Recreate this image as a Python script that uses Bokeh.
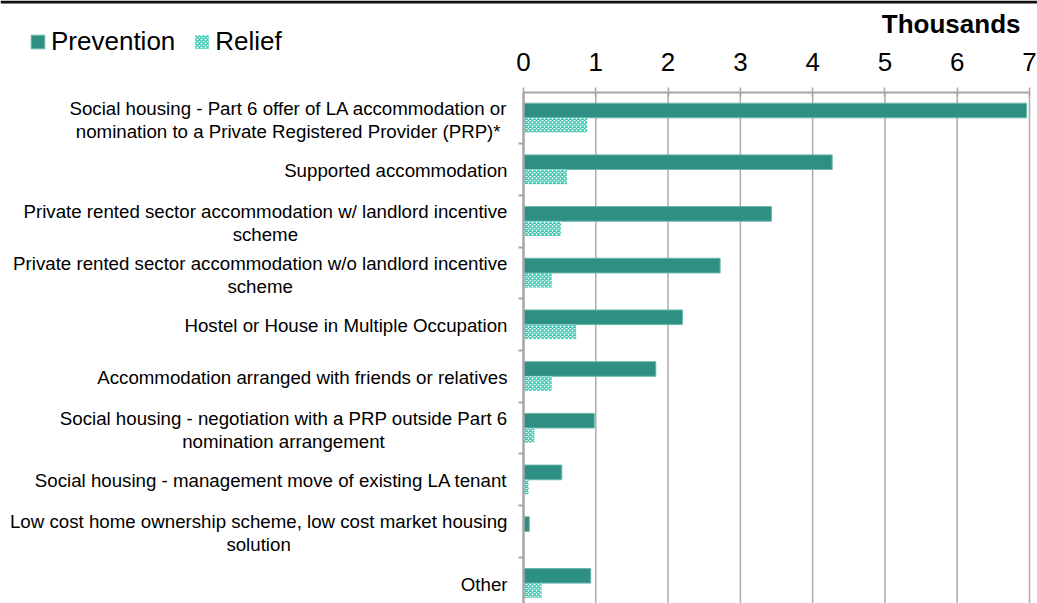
from bokeh.plotting import figure
from bokeh.models import (Range1d, LinearAxis, FixedTicker, Legend, LegendItem, Label,
                          ColumnDataSource, BoxAnnotation)
from bokeh.embed import file_html
from bokeh.resources import INLINE

categories = [
    "Social housing - Part 6 offer of LA accommodation or\nnomination to a Private Registered Provider (PRP)*",
    "Supported accommodation",
    "Private rented sector accommodation w/ landlord incentive\nscheme",
    "Private rented sector accommodation w/o landlord incentive\nscheme",
    "Hostel or House in Multiple Occupation",
    "Accommodation arranged with friends or relatives",
    "Social housing - negotiation with a PRP outside Part 6\nnomination arrangement",
    "Social housing - management move of existing LA tenant",
    "Low cost home ownership scheme, low cost market housing\nsolution",
    "Other",
]
prevention = [6.96, 4.27, 3.43, 2.72, 2.20, 1.83, 0.98, 0.53, 0.08, 0.93]
relief = [0.88, 0.60, 0.52, 0.39, 0.73, 0.39, 0.15, 0.07, 0.0, 0.25]
x_ticks = [0, 1, 2, 3, 4, 5, 6, 7]
x_title = "Thousands"
series_names = ["Prevention", "Relief"]

# ---- layout / style constants (pixels) ----
W, H = 1037, 603
PLOT_LEFT, PLOT_RIGHT, PLOT_TOP = 523, 1029, 91.5
BAND_PX = 51.7
FONT = "Liberation Sans"
PREV_COLOR = "#2e8f83"
REL_COLOR = "#3cc8b2"
AXIS_COLOR = "#a6a6a6"
GRID_COLOR = "#acacac"
LABEL_SIZE = 18.7
LABEL_RIGHT = 507          # canvas x of the right edge of category labels
LINE_GAP = 11.5            # half distance between the two label lines (px)

# Arial / Liberation Sans advance widths (1/1000 em) for centring the 2nd label line
_W = {' ': 278, '-': 333, '(': 333, ')': 333, '*': 389, ',': 278, '/': 278, '.': 278,
      'A': 667, 'B': 667, 'C': 722, 'D': 722, 'E': 667, 'F': 611, 'G': 778, 'H': 722,
      'I': 278, 'J': 500, 'K': 667, 'L': 556, 'M': 833, 'N': 722, 'O': 778, 'P': 667,
      'Q': 778, 'R': 722, 'S': 667, 'T': 611, 'U': 722, 'V': 667, 'W': 944, 'X': 667,
      'Y': 667, 'Z': 611, 'a': 556, 'b': 556, 'c': 500, 'd': 556, 'e': 556, 'f': 278,
      'g': 556, 'h': 556, 'i': 222, 'j': 222, 'k': 500, 'l': 222, 'm': 833, 'n': 556,
      'o': 556, 'p': 556, 'q': 556, 'r': 333, 's': 500, 't': 278, 'u': 556, 'v': 500,
      'w': 722, 'x': 500, 'y': 500, 'z': 500}


def text_width(s, size):
    return sum(_W.get(ch, 556) for ch in s) * size / 1000.0


n = len(categories)
centers = [i + 0.5 for i in range(n)]
bounds = [i for i in range(1, n)]
x0, x1 = x_ticks[0], x_ticks[-1]

# The frame covers the whole canvas so that texts outside the bar area are not clipped;
# the ranges are chosen so that the bar area sits where it does in the original.
xs = (PLOT_RIGHT - PLOT_LEFT) / (x1 - x0)
x_range = Range1d(x0 - PLOT_LEFT / xs, x1 + (W - PLOT_RIGHT) / xs)
y_range = Range1d((H - PLOT_TOP) / BAND_PX, -PLOT_TOP / BAND_PX)

src = ColumnDataSource(dict(
    y_prev=[c - 0.142 for c in centers],
    y_rel=[c + 0.142 for c in centers],
    prevention=prevention,
    relief=relief,
))

p = figure(width=W, height=H, x_range=x_range, y_range=y_range,
           output_backend="svg", toolbar_location=None,
           x_axis_location=None, y_axis_location=None,
           min_border=0, outline_line_color=None,
           background_fill_color="white", border_fill_color="white")
p.grid.visible = False

# vertical grid lines, only across the bar area
grid_x = [t for t in x_ticks if t != x0]
p.segment(x0=grid_x, y0=[0] * len(grid_x), x1=grid_x, y1=[n] * len(grid_x),
          line_color=GRID_COLOR, line_width=1.5)

xa = LinearAxis(ticker=FixedTicker(ticks=x_ticks), fixed_location=0, bounds=(x0, x1),
                major_label_text_font=FONT, major_label_text_font_size="26px",
                major_label_text_color="#000000",
                major_tick_in=4, major_tick_out=5, minor_tick_in=0, minor_tick_out=0,
                axis_line_color=AXIS_COLOR, axis_line_width=2,
                major_tick_line_color=AXIS_COLOR, major_tick_line_width=1.5,
                major_label_standoff=16)
p.add_layout(xa, "above")

ya = LinearAxis(ticker=FixedTicker(ticks=[], minor_ticks=bounds), fixed_location=x0,
                bounds=(0, n),
                major_tick_in=0, major_tick_out=0, minor_tick_in=0, minor_tick_out=5,
                minor_tick_line_color=AXIS_COLOR, minor_tick_line_width=2,
                axis_line_color=AXIS_COLOR, axis_line_width=2.5)
p.add_layout(ya, "left")

r1 = p.hbar(y="y_prev", right="prevention", left=0, height=0.283, source=src,
            fill_color=PREV_COLOR, line_color="#6ab7ac", line_width=1)

r2 = p.hbar(y="y_rel", right="relief", left=0, height=0.283, source=src,
            fill_color="white", hatch_pattern="diagonal_cross",
            hatch_color=REL_COLOR, hatch_scale=4, hatch_weight=1.5, line_color=None)

# category labels (second line centred under the first, as in the original)
for c, lab in zip(centers, categories):
    lines = lab.split("\n")
    common = dict(y=c, x_units="canvas", y_units="data", text_font=FONT,
                  text_font_size=f"{LABEL_SIZE}px", text_color="#000000",
                  text_baseline="middle")
    if len(lines) == 1:
        p.add_layout(Label(x=LABEL_RIGHT, text=lines[0], text_align="right",
                           y_offset=-1, **common))
    else:
        w1 = text_width(lines[0], LABEL_SIZE)
        p.add_layout(Label(x=LABEL_RIGHT, text=lines[0], text_align="right",
                           y_offset=LINE_GAP - 2, **common))
        p.add_layout(Label(x=LABEL_RIGHT - w1 / 2, text=lines[1], text_align="center",
                           y_offset=-LINE_GAP - 2, **common))

legend = Legend(items=[LegendItem(label=series_names[0], renderers=[r1]),
                       LegendItem(label=series_names[1], renderers=[r2])],
                orientation="horizontal", location=(29, 546),
                label_text_font=FONT, label_text_font_size="26px",
                label_text_color="#000000",
                glyph_width=17, glyph_height=17, label_standoff=5, spacing=18,
                padding=0, margin=0, border_line_color=None, background_fill_alpha=0)
p.add_layout(legend, "center")

p.add_layout(Label(x=1020, y=23, x_units="canvas", y_units="canvas", text=x_title,
                   text_align="right", text_baseline="alphabetic",
                   text_font=FONT, text_font_size="26px", text_font_style="bold",
                   text_color="#000000"))

p.add_layout(BoxAnnotation(left=0, right=W, top=0, bottom=3,
                           left_units="canvas", right_units="canvas",
                           top_units="canvas", bottom_units="canvas",
                           fill_color="#111111", fill_alpha=1, line_color=None))

open("out.html", "w").write(file_html(p, INLINE))
